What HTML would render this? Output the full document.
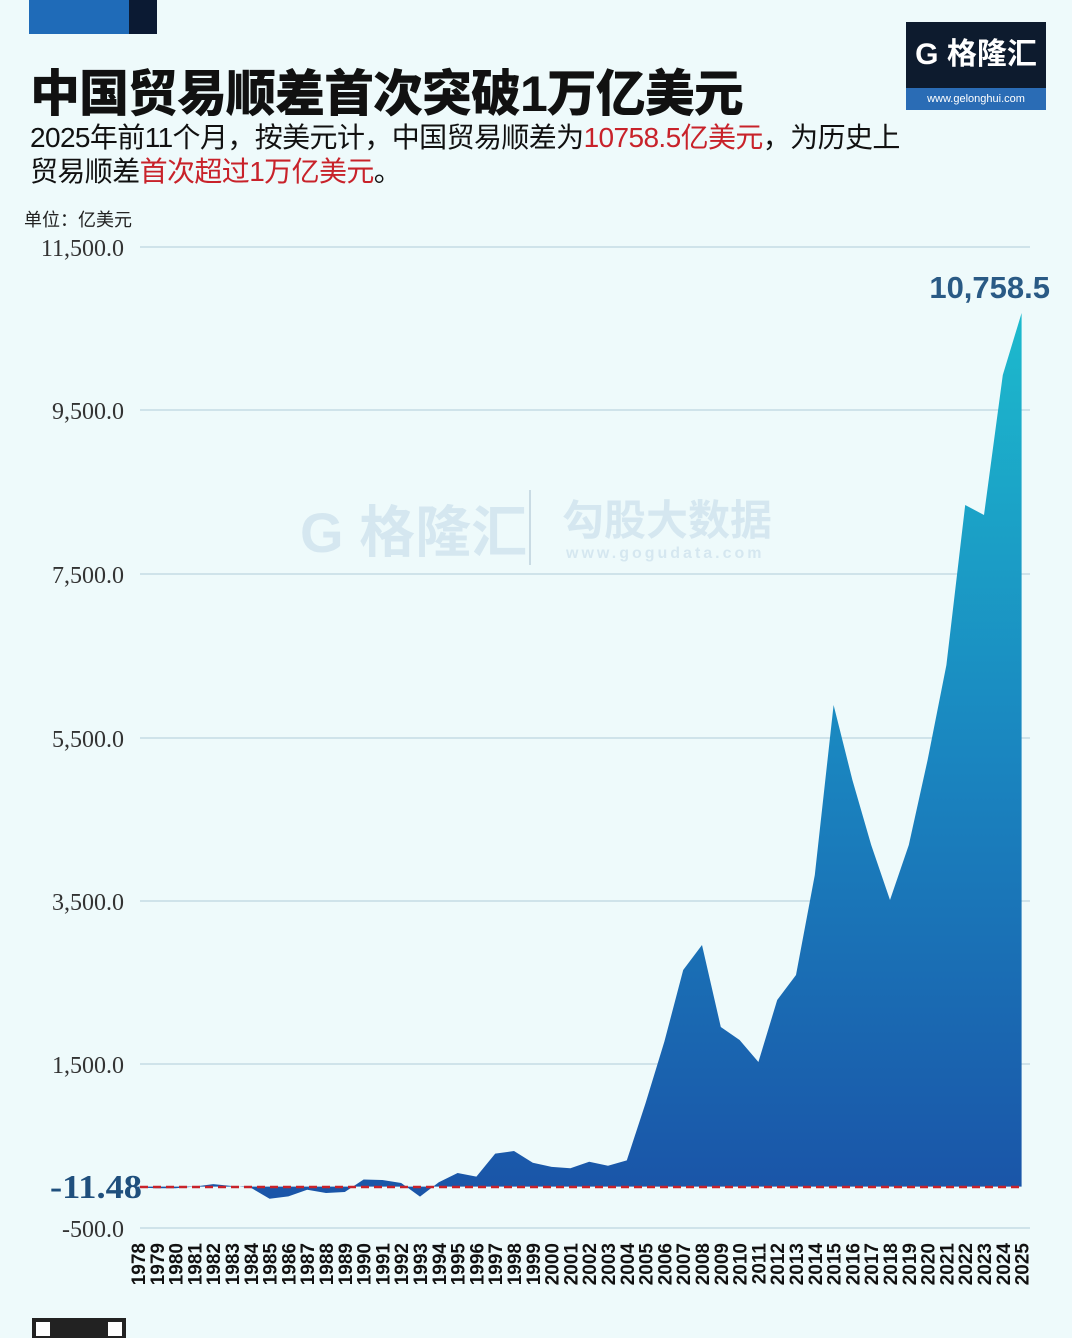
<!DOCTYPE html><html><head><meta charset="utf-8"><style>
body{margin:0;background:#eefafb;}
.w{position:relative;width:1072px;height:1338px;overflow:hidden;background:#eefafb;font-family:"Liberation Sans","Noto Sans CJK SC",sans-serif;}
</style></head><body><div class="w">
<div style="position:absolute;left:29px;top:0;width:100px;height:34px;background:#1f6bb8"></div>
<div style="position:absolute;left:129px;top:0;width:28px;height:34px;background:#0b1a33"></div>
<div style="position:absolute;left:906px;top:22px;width:140px;height:66px;background:#0d1b2e;color:#fff;font-size:30px;font-weight:bold;line-height:66px;text-align:center;font-family:'Liberation Sans','Noto Sans CJK SC',sans-serif">G 格隆汇</div>
<div style="position:absolute;left:906px;top:88px;width:140px;height:22px;background:#2a6cb5;color:#fff;font-size:11px;line-height:22px;text-align:center">www.gelonghui.com</div>
<div style="position:absolute;left:30px;top:54px;font-size:50px;font-weight:900;color:#111;letter-spacing:-1px">中国贸易顺差首次突破1万亿美元</div>
<div style="position:absolute;left:30px;top:121px;font-size:28px;color:#111;line-height:34px;letter-spacing:-0.6px">2025年前11个月，按美元计，中国贸易顺差为<span style="color:#c8222a">10758.5亿美元</span>，为历史上<br>贸易顺差<span style="color:#c8222a">首次超过1万亿美元</span>。</div>
<div style="position:absolute;left:24px;top:206px;font-size:18px;color:#222">单位：亿美元</div>
<svg width="1072" height="1338" style="position:absolute;left:0;top:0">
<defs><linearGradient id="g" gradientUnits="userSpaceOnUse" x1="0" y1="313" x2="0" y2="1190"><stop offset="0" stop-color="#1cbacd"/><stop offset="0.5" stop-color="#1a86c0"/><stop offset="1" stop-color="#1a55a8"/></linearGradient></defs>
<g stroke="#cfe3ea" stroke-width="2">
<line x1="140" y1="247" x2="1030" y2="247"/><line x1="140" y1="410" x2="1030" y2="410"/><line x1="140" y1="574" x2="1030" y2="574"/><line x1="140" y1="738" x2="1030" y2="738"/><line x1="140" y1="901" x2="1030" y2="901"/><line x1="140" y1="1064" x2="1030" y2="1064"/><line x1="140" y1="1228" x2="1030" y2="1228"/></g>
<g font-family="Liberation Serif,serif" font-size="24" fill="#333" text-anchor="end">
<text x="124" y="256">11,500.0</text><text x="124" y="419">9,500.0</text><text x="124" y="583">7,500.0</text><text x="124" y="747">5,500.0</text><text x="124" y="910">3,500.0</text><text x="124" y="1073">1,500.0</text><text x="124" y="1237">-500.0</text></g>
<g opacity="0.16" fill="#5a8ab8" font-weight="bold"><text x="300" y="552" font-size="56">G 格隆汇</text><text x="562" y="535" font-size="42">勾股大数据</text><text x="566" y="558" font-size="16" letter-spacing="3">www.gogudata.com</text></g>
<line x1="530" y1="490" x2="530" y2="565" stroke="#c9dbe4" stroke-width="2"/>
<polygon fill="url(#g)" points="138,1187.5 156.8,1188.2 175.6,1188.2 194.4,1186.6 213.2,1184.1 232,1186 250.8,1187.7 269.6,1198.8 288.4,1196.4 307.2,1189.7 326,1193 344.8,1192 363.6,1179.5 382.4,1180 401.2,1183 420,1196.6 438.8,1182.2 457.6,1173 476.4,1176.6 495.2,1153.6 514,1151 532.8,1162.7 551.6,1166.9 570.4,1168.2 589.2,1161.7 608,1165.8 626.8,1160.4 645.6,1103 664.4,1041.5 683.2,970 702,945 720.8,1027 739.6,1040 758.4,1062 777.2,1000 796,975 814.8,875 833.6,705 852.4,780 871.2,845 890,900 908.8,845 927.6,760 946.4,665 965.2,505 984,515 1002.8,375 1021.6,313 1021.6,1186.6 138,1186.6"/>
<line x1="140" y1="1187" x2="1022" y2="1187" stroke="#c8222a" stroke-width="2.5" stroke-dasharray="8,5"/>
<text x="142" y="1198" font-family="Liberation Serif,serif" font-size="34" font-weight="bold" fill="#1f4f7d" text-anchor="end" textLength="92" lengthAdjust="spacingAndGlyphs">-11.48</text>
<text x="1050" y="298" font-family="Liberation Sans,sans-serif" font-size="31" font-weight="bold" fill="#2a5a85" text-anchor="end">10,758.5</text>
<rect x="32" y="1318" width="94" height="20" fill="#222"/><rect x="36" y="1322" width="14" height="14" fill="#fff"/><rect x="108" y="1322" width="14" height="14" fill="#fff"/>
</svg>
<svg width="1072" height="1338" style="position:absolute;left:0;top:0">
<g font-family="Liberation Sans,sans-serif" font-size="19" font-weight="bold" fill="#111" text-anchor="end">
<text transform="translate(145,1243) rotate(-90)">1978</text><text transform="translate(163.8,1243) rotate(-90)">1979</text><text transform="translate(182.6,1243) rotate(-90)">1980</text><text transform="translate(201.4,1243) rotate(-90)">1981</text><text transform="translate(220.2,1243) rotate(-90)">1982</text><text transform="translate(239,1243) rotate(-90)">1983</text><text transform="translate(257.8,1243) rotate(-90)">1984</text><text transform="translate(276.6,1243) rotate(-90)">1985</text><text transform="translate(295.4,1243) rotate(-90)">1986</text><text transform="translate(314.2,1243) rotate(-90)">1987</text><text transform="translate(333,1243) rotate(-90)">1988</text><text transform="translate(351.8,1243) rotate(-90)">1989</text><text transform="translate(370.6,1243) rotate(-90)">1990</text><text transform="translate(389.4,1243) rotate(-90)">1991</text><text transform="translate(408.2,1243) rotate(-90)">1992</text><text transform="translate(427,1243) rotate(-90)">1993</text><text transform="translate(445.8,1243) rotate(-90)">1994</text><text transform="translate(464.6,1243) rotate(-90)">1995</text><text transform="translate(483.4,1243) rotate(-90)">1996</text><text transform="translate(502.2,1243) rotate(-90)">1997</text><text transform="translate(521,1243) rotate(-90)">1998</text><text transform="translate(539.8,1243) rotate(-90)">1999</text><text transform="translate(558.6,1243) rotate(-90)">2000</text><text transform="translate(577.4,1243) rotate(-90)">2001</text><text transform="translate(596.2,1243) rotate(-90)">2002</text><text transform="translate(615,1243) rotate(-90)">2003</text><text transform="translate(633.8,1243) rotate(-90)">2004</text><text transform="translate(652.6,1243) rotate(-90)">2005</text><text transform="translate(671.4,1243) rotate(-90)">2006</text><text transform="translate(690.2,1243) rotate(-90)">2007</text><text transform="translate(709,1243) rotate(-90)">2008</text><text transform="translate(727.8,1243) rotate(-90)">2009</text><text transform="translate(746.6,1243) rotate(-90)">2010</text><text transform="translate(765.4,1243) rotate(-90)">2011</text><text transform="translate(784.2,1243) rotate(-90)">2012</text><text transform="translate(803,1243) rotate(-90)">2013</text><text transform="translate(821.8,1243) rotate(-90)">2014</text><text transform="translate(840.6,1243) rotate(-90)">2015</text><text transform="translate(859.4,1243) rotate(-90)">2016</text><text transform="translate(878.2,1243) rotate(-90)">2017</text><text transform="translate(897,1243) rotate(-90)">2018</text><text transform="translate(915.8,1243) rotate(-90)">2019</text><text transform="translate(934.6,1243) rotate(-90)">2020</text><text transform="translate(953.4,1243) rotate(-90)">2021</text><text transform="translate(972.2,1243) rotate(-90)">2022</text><text transform="translate(991,1243) rotate(-90)">2023</text><text transform="translate(1009.8,1243) rotate(-90)">2024</text><text transform="translate(1028.6,1243) rotate(-90)">2025</text>
</g></svg>
</div></body></html>
